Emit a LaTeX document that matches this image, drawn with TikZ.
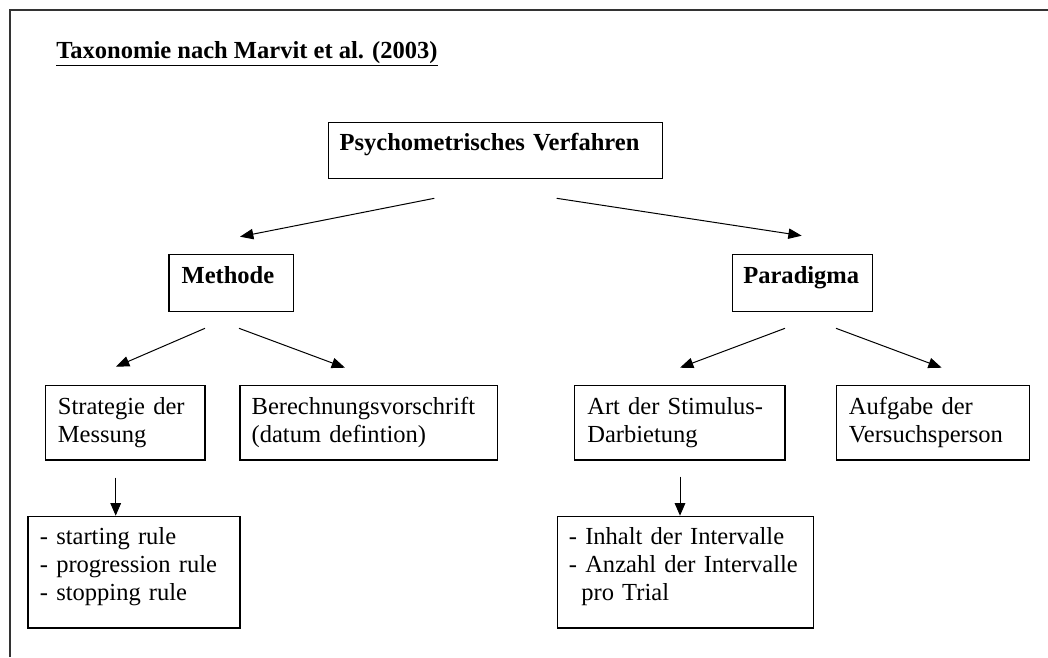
\documentclass[tikz,border=0pt]{standalone}
\usepackage{fontspec}
\setmainfont{Liberation Serif}
\usetikzlibrary{arrows.meta}
\begin{document}
\begin{tikzpicture}[x=0.75pt,y=-0.75pt,
  every node/.style={font=\fontsize{18.4}{20.8}\selectfont},
  box/.style={draw, line width=0.95pt, anchor=north west, align=left, inner ysep=0pt},
  arr/.style={line width=0.75pt, -{Triangle[length=10pt,width=7.8pt]}},
  darr/.style={line width=0.75pt, -{Triangle[length=9.5pt,width=8pt]}},
  frame/.style={line width=0.8pt, draw=black!80}]
\useasboundingbox (0,0) rectangle (1048,657);
% frame (left and top edges)
\draw[frame] (10,657) -- (10,10) -- (1048,10);
% title
\node[anchor=base west, inner sep=0pt, font=\fontsize{18.4}{20.8}\selectfont\bfseries] (title) at (56,58) {\underline{Taxonomie nach Marvit et al. (2003)}};
% level 0
\node[box, font=\fontsize{18.4}{20.8}\selectfont\bfseries, inner xsep=8.25pt, text width=234pt, text height=21pt, text depth=21pt] (pv) at (328,122) {Psychometrisches Verfahren};
% level 1
\node[box, font=\fontsize{18.4}{20.8}\selectfont\bfseries, inner xsep=9.5pt, text width=74.3pt, text height=21.3pt, text depth=21.2pt] (meth) at (168.3,254) {Methode};
\node[box, font=\fontsize{18.4}{20.8}\selectfont\bfseries, inner xsep=8.25pt, text width=88.5pt, text height=21.3pt, text depth=21.2pt] (para) at (731.7,254) {Paradigma};
% level 2
\node[box, inner xsep=9.2pt, text width=101.1pt, text height=22pt, text depth=33.75pt] (strat) at (45,385) {Strategie der\\Messung};
\node[box, inner xsep=8.8pt, text width=175.4pt, text height=22pt, text depth=33.75pt] (ber) at (239.3,385) {Berechnungsvorschrift\\(datum defintion)};
\node[box, inner xsep=9.5pt, text width=138.7pt, text height=22pt, text depth=33.75pt] (art) at (574,385) {Art der Stimulus-\\Darbietung};
\node[box, inner xsep=9.2pt, text width=126.35pt, text height=22pt, text depth=33.75pt] (auf) at (836,385) {Aufgabe der\\Versuchsperson};
% level 3
\node[box, inner xsep=9pt, text width=141pt, text height=21.2pt, text depth=62.5pt] (rules) at (27.3,515.7) {- starting rule\\- progression rule\\- stopping rule};
\node[box, inner xsep=8.7pt, text width=174.6pt, text height=21.2pt, text depth=62.5pt] (intv) at (556.7,515.7) {- Inhalt der Intervalle\\- Anzahl der Intervalle\\\hspace*{9.3pt}pro Trial};
% arrow coordinates
\coordinate (a1s) at (434.3,198.3); \coordinate (a1e) at (240,236.7);
\coordinate (a2s) at (556.7,198.3); \coordinate (a2e) at (801.7,235.7);
\coordinate (b1s) at (205,328.3);   \coordinate (b1e) at (116,366.7);
\coordinate (b2s) at (239,328.3);   \coordinate (b2e) at (345,367.7);
\coordinate (c1s) at (785,328.3);   \coordinate (c1e) at (680,367.7);
\coordinate (c2s) at (836,328.3);   \coordinate (c2e) at (941.7,367.7);
\coordinate (d1s) at (115.7,477.7);
\coordinate (d2s) at (680,476.7);
% arrows
\draw[arr] (a1s) -- (a1e);
\draw[arr] (a2s) -- (a2e);
\draw[arr] (b1s) -- (b1e);
\draw[arr] (b2s) -- (b2e);
\draw[arr] (c1s) -- (c1e);
\draw[arr] (c2s) -- (c2e);
\draw[darr] (d1s) -- (d1s |- rules.north);
\draw[darr] (d2s) -- (d2s |- intv.north);
\end{tikzpicture}
\end{document}
